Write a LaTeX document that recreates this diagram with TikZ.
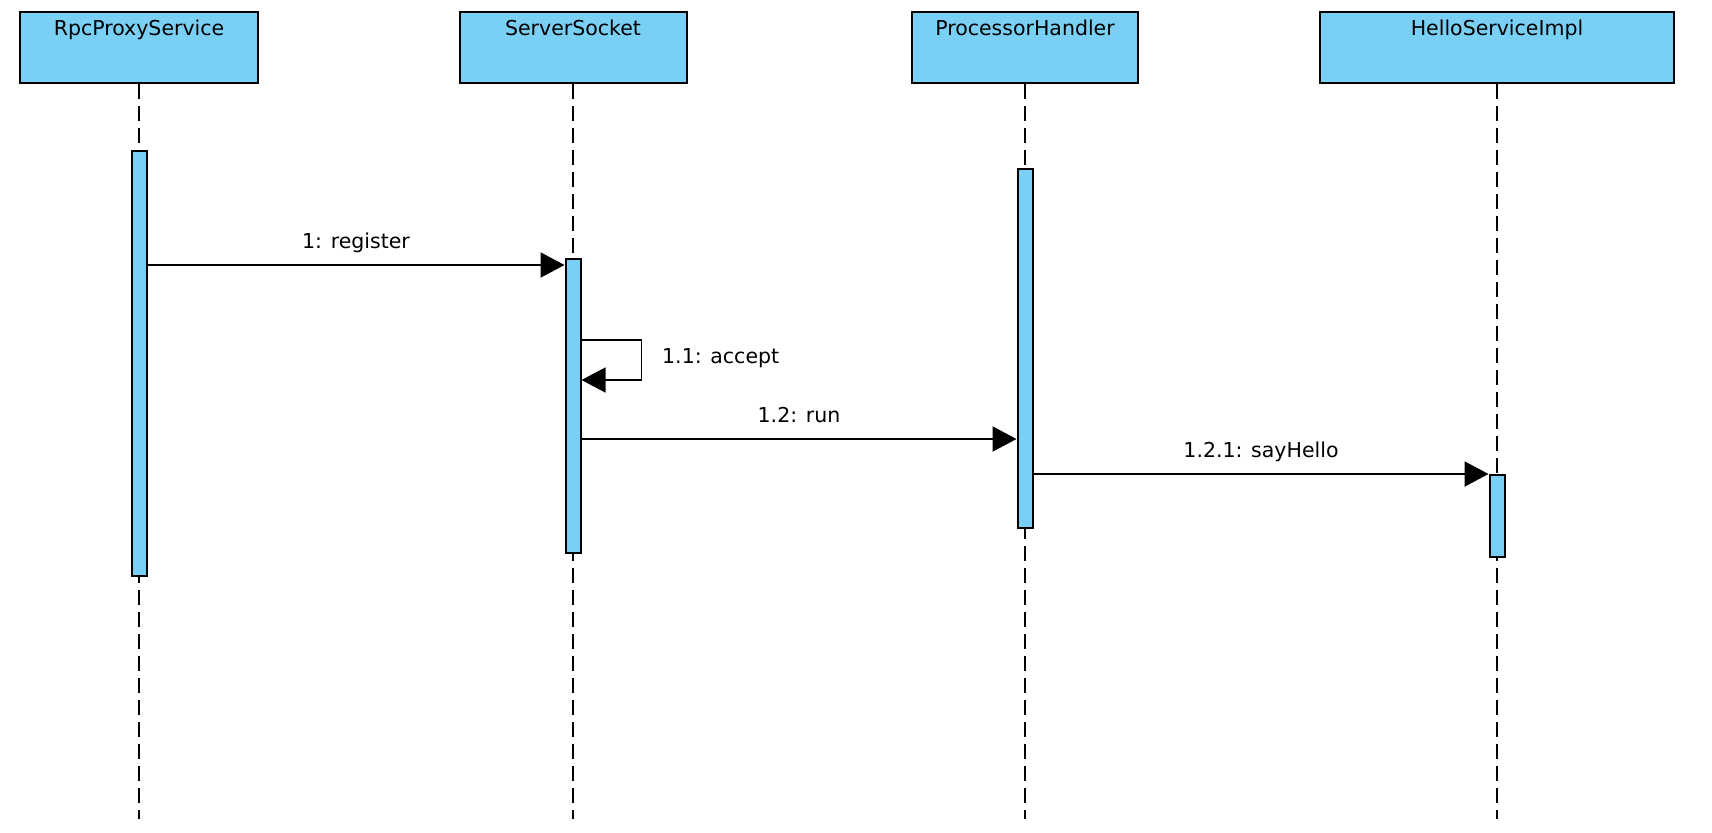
\documentclass[tikz,border=0pt]{standalone}
\usepackage{fontspec}
\setmainfont{DejaVu Sans}
\definecolor{lifeblue}{RGB}{122,207,244}
\usetikzlibrary{arrows.meta,positioning}

\begin{document}
\begin{tikzpicture}[x=0.5pt,y=-0.5pt,
    txt/.style={font=\fontsize{10.25pt}{12pt}\selectfont},
    head/.style={txt,draw,line width=1pt,fill=lifeblue,anchor=north,inner sep=0pt,text height=11.5pt,text depth=24pt},
    act/.style={draw,line width=1pt,fill=lifeblue,minimum width=7.5pt,inner sep=0pt,anchor=north},
    life/.style={line width=0.85pt,dash pattern=on 7.5pt off 3.5pt},
    msg/.style={line width=1pt,-{Triangle[length=12pt,width=12.5pt]}},
    selfmsg/.style={msg,line width=0.7pt},
    lbl/.style={txt,inner sep=0pt,text height=8pt,text depth=2.5pt}]
  \useasboundingbox (0,0) rectangle (1712,832);
  % lifeline heads
  \node[head,minimum width=119pt] (rpc) at (139,11) {RpcProxyService};
  \node[head,minimum width=113.5pt] (ss) at (573,11) {ServerSocket};
  \node[head,minimum width=113pt] (ph) at (1025,11) {ProcessorHandler};
  \node[head,minimum width=177pt] (hs) at (1497,11) {HelloServiceImpl};
  \coordinate (bottom) at (0,819);
  \foreach \n in {rpc,ss,ph,hs}
    \draw[life] (\n.south) -- (\n.south |- bottom);
  % activations
  \node[act,minimum height=212.5pt] (rpcA) at (rpc.south |- 0,150) {};
  \node[act,minimum height=147pt] (ssA) at (ss.south |- 0,258) {};
  \node[act,minimum height=179.5pt] (phA) at (ph.south |- 0,168) {};
  \node[act,minimum height=41pt] (hsA) at (hs.south |- 0,474) {};
  % messages
  \coordinate (m1) at (0,265);
  \coordinate (m2) at (0,340);
  \coordinate (m3) at (0,380);
  \coordinate (m4) at (0,439);
  \draw[msg] (rpcA.east |- m1) -- node[lbl,above=5.3pt] {1: register} (ssA.west |- m1);
  \draw[selfmsg] (ssA.east |- m2) -- ++(60,0) |- node[lbl,pos=0.22,right=10pt] {1.1: accept} (ssA.east |- m3);
  \draw[msg] (ssA.east |- m4) -- node[lbl,above=5.3pt] {1.2: run} (phA.west |- m4);
  \draw[msg] (phA.east |- hsA.north) -- node[lbl,above=5.3pt] {1.2.1: sayHello} (hsA.north west);
\end{tikzpicture}
\end{document}
